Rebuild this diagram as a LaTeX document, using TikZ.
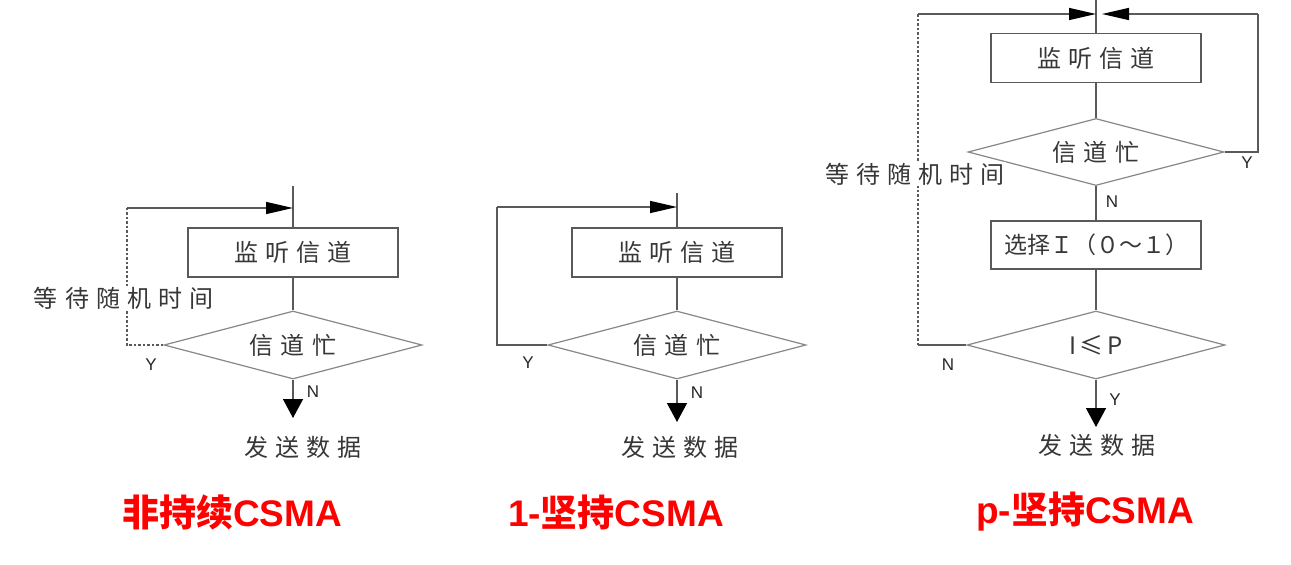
\documentclass[tikz,border=0pt]{standalone}
\usepackage{fontspec}
\setmainfont{Liberation Sans}
\newfontfamily\cjk{Noto Sans CJK SC}
\usetikzlibrary{arrows.meta,shapes.geometric}
\definecolor{linec}{RGB}{90,90,90}
\definecolor{diac}{RGB}{135,135,135}
\definecolor{txtc}{RGB}{55,55,55}
\definecolor{titlered}{RGB}{255,0,0}
\newcommand{\zh}[1]{{\cjk\addfontfeature{LetterSpace=30}#1\hspace{-0.30em}}}
\tikzset{
  procbox/.style={draw=linec, line width=1.5pt, minimum width=210pt, minimum height=49pt, inner sep=0pt, text=txtc, font=\fontsize{24}{26}\selectfont},
  decide/.style={diamond, draw=diac, line width=1.2pt, aspect=3.8, inner sep=0pt, minimum width=258pt, minimum height=68pt, text=txtc, font=\fontsize{24}{26}\selectfont},
  conn/.style={draw=linec, line width=1.4pt},
  loopdash/.style={conn, dash pattern=on 2.5pt off 2pt},
  harrow/.style={-{Triangle[length=27pt,width=12pt,color=black]}},
  varrow/.style={-{Triangle[length=19pt,width=20pt,color=black]}},
  lbl/.style={font=\fontsize{24}{26}\selectfont, text=txtc},
  yn/.style={font=\fontsize{17}{18}\selectfont, text=black!85},
  ttl/.style={font=\fontsize{37}{42}\selectfont\bfseries, text=titlered},
}
\begin{document}
\begin{tikzpicture}[x=1pt,y=-1pt]
\fill[white] (0,0) rectangle (1291,565);
\useasboundingbox (0,0) rectangle (1291,565);

% ---------- Diagram 1: non-persistent ----------
\node[procbox] (b1) at (293,252.5) {\zh{监听信道}};
\node[decide] (d1) at (293,345) {\zh{信道忙}};
\coordinate (s1) at (293,186);
\coordinate (m1) at (293,208);
\coordinate (l1a) at (127,345);
\coordinate (l1b) at (127,208);
\coordinate (tip1) at (293,418);
\draw[conn] (s1) -- (b1.north);
\draw[conn] (b1.south) -- (d1.north);
\draw[loopdash] (d1.west) -- (l1a) -- (l1b);
\draw[conn,harrow] (l1b) -- (m1);
\node[lbl,fill=white,inner sep=1pt] (w1) at (124,298) {\zh{等待随机时间}};
\draw[conn,varrow] (d1.south) -- (tip1);
\node[yn] (y1) at (151,365) {Y};
\node[yn] (n1) at (313,392) {N};
\node[lbl] (send1) at (303,447) {\zh{发送数据}};
\node[ttl] (t1) at (232,512) {{\cjk 非持续}CSMA};

% ---------- Diagram 2: 1-persistent ----------
\node[procbox] (b2) at (677,252.5) {\zh{监听信道}};
\node[decide] (d2) at (677,345) {\zh{信道忙}};
\coordinate (s2) at (677,193);
\coordinate (m2) at (677,207);
\coordinate (l2a) at (497,345);
\coordinate (l2b) at (497,207);
\coordinate (tip2) at (677,422);
\draw[conn] (s2) -- (b2.north);
\draw[conn] (b2.south) -- (d2.north);
\draw[conn] (d2.west) -- (l2a) -- (l2b);
\draw[conn,harrow] (l2b) -- (m2);
\draw[conn,varrow] (d2.south) -- (tip2);
\node[yn] (y2) at (528,363) {Y};
\node[yn] (n2) at (697,393) {N};
\node[lbl] (send2) at (680,447) {\zh{发送数据}};
\node[ttl] (t2) at (616,512) {1-{\cjk 坚持}CSMA};

% ---------- Diagram 3: p-persistent ----------
\node[procbox] (b3) at (1096,58) {\zh{监听信道}};
\node[decide,minimum width=256pt,minimum height=67pt] (d3) at (1096,152) {\zh{信道忙}};
\node[procbox,minimum height=48pt] (b4) at (1096,245) {{\cjk\fontsize{23}{25}\selectfont 选择Ｉ（０～１）}};
\node[decide] (d4) at (1096,345) {{\cjk\addfontfeature{LetterSpace=15}I≤P\hspace{-0.15em}}};
\coordinate (s3) at (1096,0);
\coordinate (m3) at (1096,14);
\coordinate (m3r) at (1102,14);
\coordinate (r3a) at (1258,152);
\coordinate (r3b) at (1258,14);
\coordinate (l3a) at (918,345);
\coordinate (l3b) at (918,14);
\coordinate (tip3) at (1096,427);
\draw[conn] (s3) -- (b3.north);
\draw[conn] (b3.south) -- (d3.north);
\draw[conn] (d3.south) -- (b4.north);
\draw[conn] (b4.south) -- (d4.north);
\draw[conn] (d3.east) -- (r3a) -- (r3b);
\draw[conn,harrow] (r3b) -- (m3r);
\draw[conn] (d4.west) -- (l3a);
\draw[loopdash] (l3a) -- (l3b);
\draw[conn,harrow] (l3b) -- (m3);
\node[lbl,fill=white,inner sep=1pt] (w3) at (915,174) {\zh{等待随机时间}};
\draw[conn,varrow] (d4.south) -- (tip3);
\node[yn] (y3) at (1247,163) {Y};
\node[yn] (n3) at (1112,202) {N};
\node[yn] (n4) at (948,365) {N};
\node[yn] (y4) at (1115,400) {Y};
\node[lbl] (send3) at (1097,445) {\zh{发送数据}};
\node[ttl] (t3) at (1085,512) {p-{\cjk 坚持}CSMA};
\end{tikzpicture}
\end{document}
